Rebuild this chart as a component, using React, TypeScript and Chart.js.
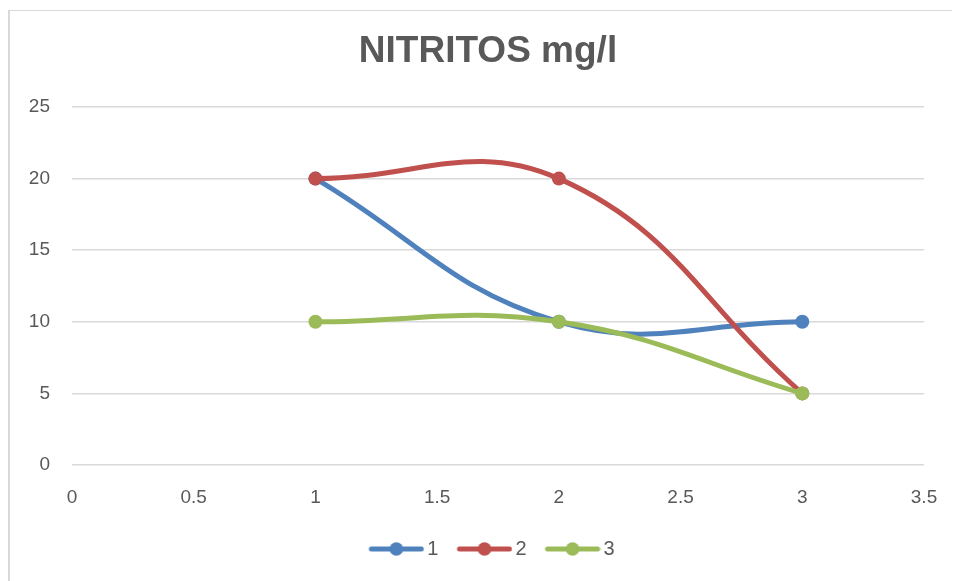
import React, { useEffect, useRef } from "react";
import { Chart, registerables } from "chart.js";

Chart.register(...registerables);

const TITLE = "NITRITOS mg/l";
const xValues = [1, 2, 3];
const seriesNames = ["1", "2", "3"];
const series1 = [20, 10, 10];
const series2 = [20, 20, 5];
const series3 = [10, 10, 5];
const seriesColors = ["#4F81BD", "#C0504D", "#9BBB59"];

const FONT = "'Liberation Sans', Arial, sans-serif";
const TEXT = "#595959";

function legendImage(color: string) {
  const c = document.createElement("canvas");
  c.width = 70;
  c.height = 16;
  const ctx = c.getContext("2d")!;
  ctx.strokeStyle = color;
  ctx.lineWidth = 5;
  ctx.lineCap = "round";
  ctx.beginPath();
  ctx.moveTo(17, 8);
  ctx.lineTo(67, 8);
  ctx.stroke();
  ctx.fillStyle = color;
  ctx.beginPath();
  ctx.arc(42, 8, 6.8, 0, Math.PI * 2);
  ctx.fill();
  return c;
}

export default function App() {
  const ref = useRef<HTMLCanvasElement>(null);
  useEffect(() => {
    document.body.style.overflow = "hidden";
    const all = [series1, series2, series3];
    const images = seriesColors.map(legendImage);
    const chart = new Chart(ref.current!, {
      type: "scatter",
      data: {
        datasets: all.map((vals, i) => ({
          label: seriesNames[i],
          data: vals.map((y, j) => ({ x: xValues[j], y })),
          showLine: true,
          borderColor: seriesColors[i],
          backgroundColor: seriesColors[i],
          borderWidth: 5,
          pointRadius: 7,
          pointHoverRadius: 7,
          pointBorderWidth: 0,
          tension: 0.42,
          order: 3 - i,
          yAxisID: "y",
        })),
      },
      options: {
        animation: false,
        responsive: false,
        layout: { padding: { left: 10, right: 2, top: 0, bottom: 12 } },
        plugins: {
          title: {
            display: true,
            text: TITLE,
            color: TEXT,
            font: { family: FONT, size: 37, weight: "bold" },
            padding: { top: 22, bottom: 32.6 },
          },
          legend: {
            position: "bottom",
            labels: {
              usePointStyle: true,
              pointStyleWidth: 56,
              padding: 11,
              color: TEXT,
              font: { family: FONT, size: 20 },
              generateLabels: (ch: any) => {
                const items = Chart.defaults.plugins.legend.labels.generateLabels(ch);
                items.sort((a: any, b: any) => a.datasetIndex - b.datasetIndex);
                return items.map((it: any) => ({
                  ...it,
                  pointStyle: images[it.datasetIndex],
                  fontColor: TEXT,
                }));
              },
            },
          },
          tooltip: { enabled: false },
        },
        scales: {
          x: {
            type: "linear",
            min: 0,
            max: 3.5,
            ticks: {
              stepSize: 0.5,
              color: TEXT,
              font: { family: FONT, size: 19 },
              padding: 21,
              callback: (v: any) => String(v),
            },
            grid: { display: false, drawTicks: false },
            border: { display: false },
            afterFit: (s: any) => {
              s.height = 63;
            },
          },
          y: {
            min: 0,
            max: 25,
            position: "left",
            ticks: { stepSize: 5, color: TEXT, font: { family: FONT, size: 19 }, padding: 22 },
            grid: { color: "#D9D9D9", lineWidth: 1.5, drawTicks: false },
            border: { display: false },
            afterFit: (s: any) => {
              s.width = 54;
            },
          },
          spacer: {
            type: "linear",
            position: "right",
            display: true,
            ticks: { display: false },
            grid: { display: false, drawTicks: false },
            border: { display: false },
            afterFit: (s: any) => {
              s.width = 34;
            },
          },
        },
      } as any,
    });
    return () => chart.destroy();
  }, []);
  return (
    <div style={{ position: "relative", width: 952, height: 573 }}>
      <div
        style={{
          position: "absolute",
          left: 0,
          top: 2,
          right: 0,
          bottom: 0,
          borderLeft: "2px solid #D9D9D9",
          borderTop: "1.5px solid #D9D9D9",
        }}
      />
      <canvas ref={ref} width={952} height={573} style={{ position: "absolute", left: 0, top: 0 }} />
    </div>
  );
}
